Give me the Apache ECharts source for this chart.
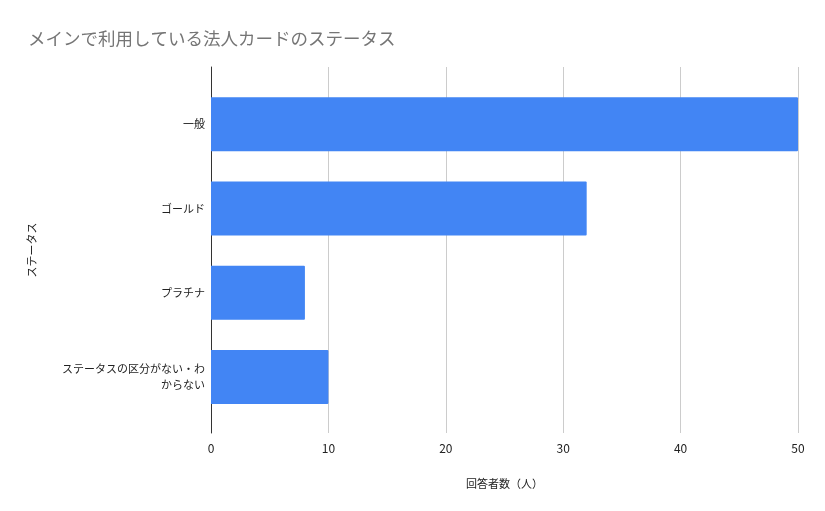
<!DOCTYPE html>
<html>
<head>
<meta charset="utf-8">
<script src="https://cdn.jsdelivr.net/npm/echarts@6/dist/echarts.min.js"></script>
<style>
  html, body { margin: 0; padding: 0; background: #fff; }
  #chart { width: 825px; height: 511px; }
</style>
</head>
<body>
<div id="chart"></div>
<script>
var categories = ['一般', 'ゴールド', 'プラチナ', 'ステータスの区分がない・わからない'];
var counts = [50, 32, 8, 10];
var xTicks = [0, 50, 10]; // min, max, interval

var font = '"Noto Sans CJK JP", "Noto Sans", sans-serif';
var theChart = echarts.init(document.getElementById('chart'));

var option = {
    backgroundColor: '#fff',
    title: {
        text: 'メインで利用している法人カードのステータス',
        left: 23,
        top: 25,
        textStyle: { color: '#757575', fontSize: 17.5, fontWeight: 'normal', fontFamily: font }
    },
    // grid 0: axis lines / split lines, grid 1: bars
    grid: [
        { left: 211, right: 27, top: 67, bottom: 78 },
        { left: 211, right: 27, top: 82, bottom: 92 }
    ],
    xAxis: [{
        gridIndex: 0,
        type: 'value',
        min: xTicks[0], max: xTicks[1], interval: xTicks[2],
        name: '回答者数（人）',
        nameLocation: 'middle',
        nameGap: 45,
        nameTextStyle: { color: '#222', fontSize: 11, fontFamily: font },
        axisLine: { show: false },
        axisTick: { show: false },
        axisLabel: { color: '#222', fontSize: 12, margin: 9, fontFamily: font },
        splitLine: { lineStyle: { color: '#cccccc', width: 1 } }
    }, {
        gridIndex: 1,
        type: 'value',
        min: xTicks[0], max: xTicks[1], interval: xTicks[2],
        show: false
    }],
    yAxis: [{
        gridIndex: 0,
        type: 'category',
        data: categories,
        inverse: true,
        name: 'ステータス',
        nameLocation: 'middle',
        nameGap: 174,
        nameTextStyle: { color: '#222', fontSize: 11, fontFamily: font },
        axisLine: { show: true, lineStyle: { color: '#333', width: 1 } },
        axisTick: { show: false },
        axisLabel: { show: false },
        splitLine: { show: false }
    }, {
        gridIndex: 1,
        type: 'category',
        data: categories,
        inverse: true,
        axisLine: { show: false },
        axisTick: { show: false },
        axisLabel: {
            color: '#222',
            fontSize: 11,
            fontFamily: font,
            margin: 6,
            width: 146,
            overflow: 'break',
            lineHeight: 16,
            align: 'right'
        }
    }],
    series: [{
        type: 'bar',
        xAxisIndex: 1,
        yAxisIndex: 1,
        data: counts,
        barWidth: 54,
        itemStyle: { color: '#4285F4', borderRadius: [0, 1, 1, 0] },
        animation: false
    }]
};
theChart.setOption(option);
</script>
</body>
</html>
